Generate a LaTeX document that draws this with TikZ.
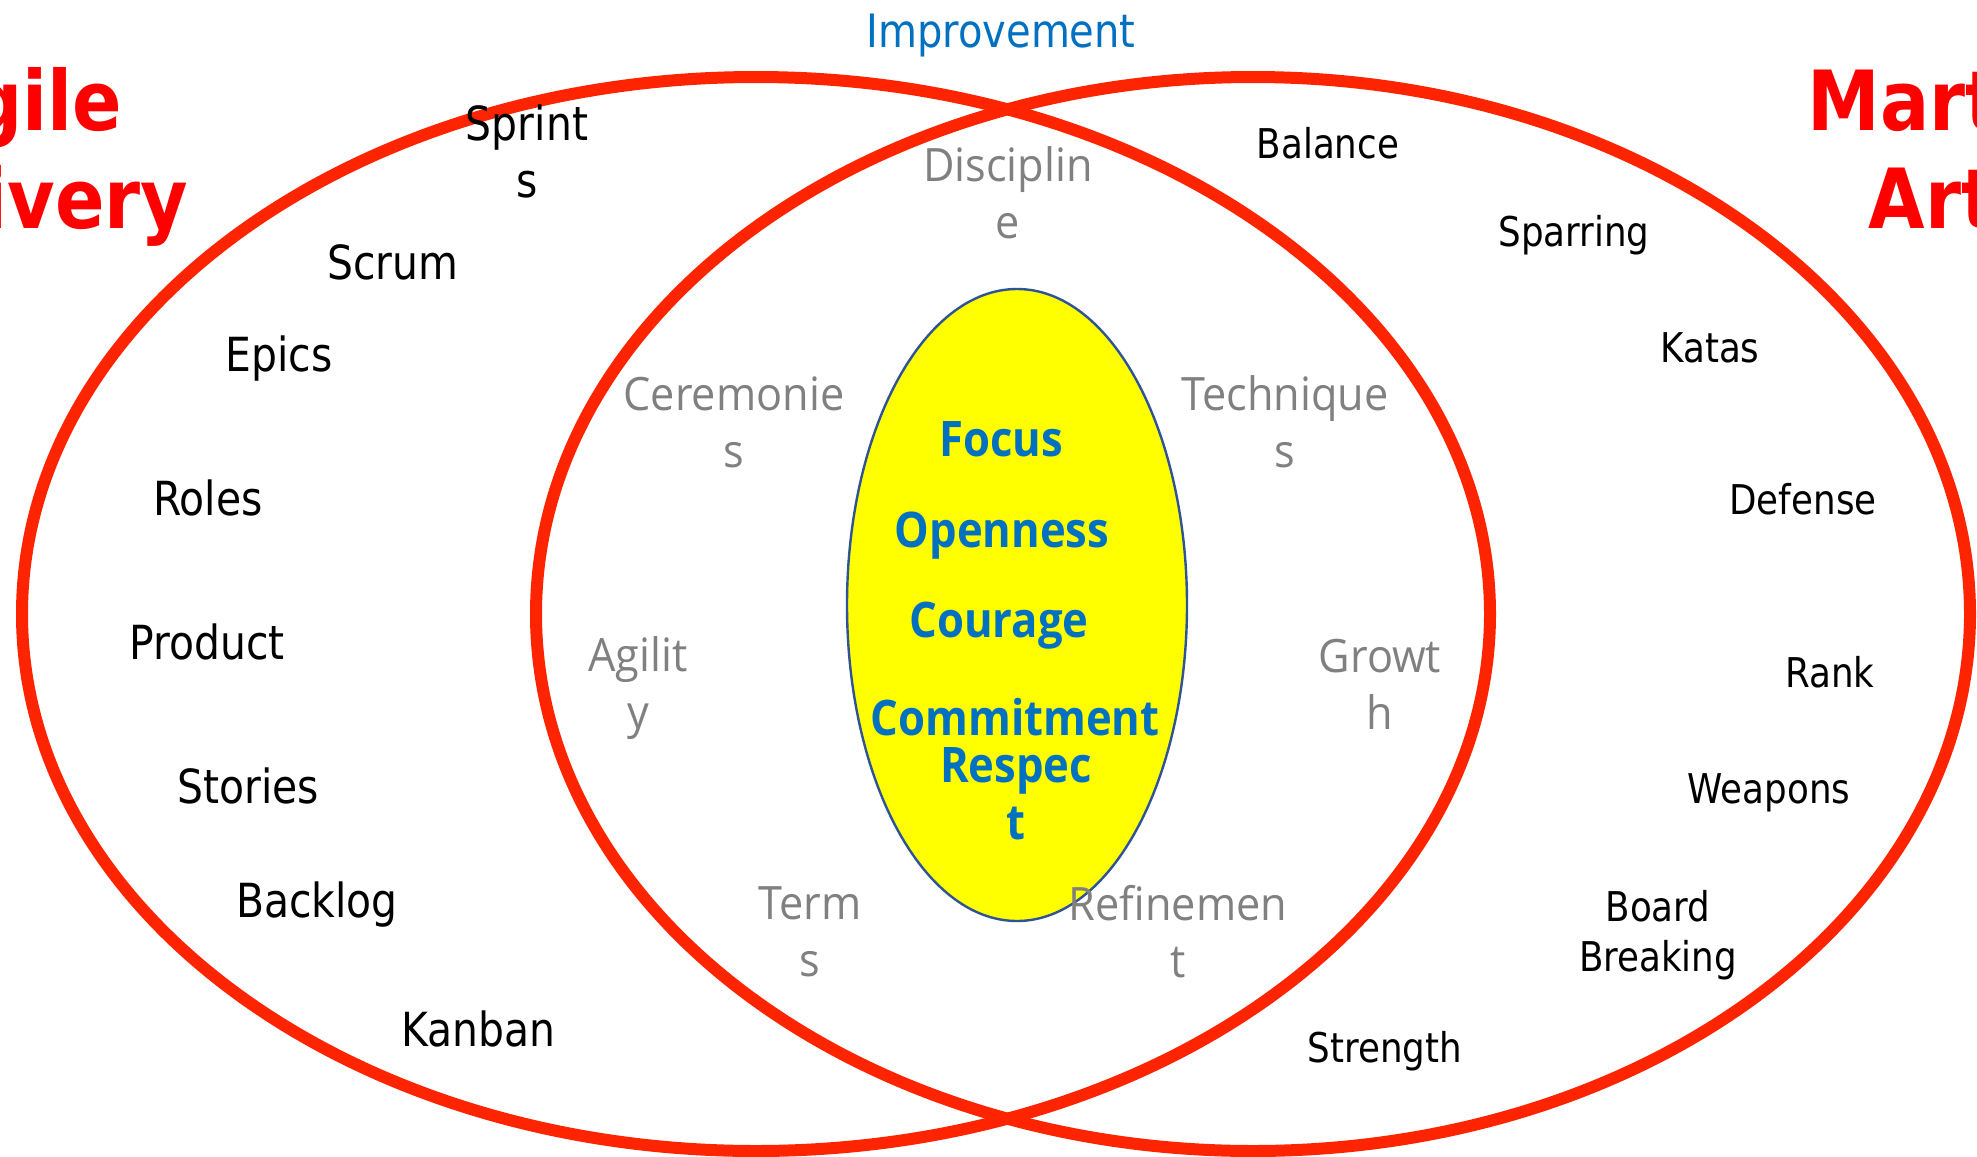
\documentclass[tikz,border=0pt]{standalone}
\usepackage{fontspec}
\setmainfont{DejaVu Sans}
\newfontfamily\tahomafont{DejaVu Sans}[FakeStretch=0.87]
\newfontfamily\segoefont{Open Sans}[FakeStretch=0.94]
\newfontfamily\segoeboldfont{Open Sans}[FakeStretch=0.89]
\newfontfamily\titlefont{DejaVu Sans}[FakeStretch=0.88]
\usetikzlibrary{positioning}

\definecolor{ringred}{RGB}{255,36,0}
\definecolor{titlered}{RGB}{255,0,0}
\definecolor{valueblue}{RGB}{0,112,192}
\definecolor{sharedgray}{RGB}{128,128,128}
\definecolor{coreyellow}{RGB}{255,255,0}
\definecolor{coreedge}{RGB}{47,84,150}

\tikzset{
  ring/.style={draw=ringred, line width=6pt},
  agileword/.style={text=black, inner sep=0, align=center, font=\tahomafont\fontsize{23.5}{28.5}\selectfont},
  martialword/.style={text=black, inner sep=0, align=center, font=\tahomafont\fontsize{20.5}{25}\selectfont},
  sharedword/.style={text=sharedgray, inner sep=0, align=center, font=\segoefont\fontsize{23}{28.5}\selectfont},
  valueword/.style={text=valueblue, inner sep=0, align=center, font=\segoeboldfont\bfseries\fontsize{24.5}{28.5}\selectfont},
  bigtitle/.style={text=titlered, inner sep=0, align=center, anchor=north, font=\titlefont\bfseries\fontsize{41.5}{49}\selectfont}
}

\begin{document}
\begin{tikzpicture}[x=0.5pt,y=-0.5pt]
\useasboundingbox (0,0) rectangle (1977,1157);
\fill[white] (0,0) rectangle (1977,1157);

\draw[ring] (756,614) ellipse (734 and 537);
\draw[ring] (1253,614) ellipse (717 and 537);
\draw[fill=coreyellow, draw=coreedge, line width=1.2pt] (1017,605) ellipse (170 and 316);

\node[bigtitle] (agile) at (18,67) {Agile\\Delivery};
\node[bigtitle] (martial) at (1954,67) {Martial\\Arts};
\node[text=valueblue, inner sep=0, font=\tahomafont\fontsize{23}{28}\selectfont] (improvement) at (1001,36) {Improvement};

\node[agileword] (sprints) at (527,151) {Sprint\\s};
\node[agileword] (scrum) at (393,262) {Scrum};
\node[agileword] (epics) at (279,359) {Epics};
\node[agileword] (roles) at (208,498) {Roles};
\node[agileword] (product) at (207,642) {Product};
\node[agileword] (stories) at (248,786) {Stories};
\node[agileword] (backlog) at (317,905) {Backlog};
\node[agileword] (kanban) at (478,1029) {Kanban};

\node[martialword] (balance) at (1328,143) {Balance};
\node[martialword] (sparring) at (1574,235) {Sparring};
\node[martialword] (katas) at (1710,348) {Katas};
\node[martialword] (defense) at (1803,499) {Defense};
\node[martialword] (rank) at (1830,672) {Rank};
\node[martialword] (weapons) at (1769,793) {Weapons};
\node[martialword] (board) at (1658,935) {Board\\Breaking};
\node[martialword] (strength) at (1385,1051) {Strength};

\node[sharedword] (discipline) at (1008,193) {Disciplin\\e};
\node[sharedword] (ceremonies) at (734,422) {Ceremonie\\s};
\node[sharedword] (techniques) at (1285,422) {Technique\\s};
\node[sharedword] (agility) at (638,688) {Agilit\\y};
\node[sharedword] (growth) at (1380,684) {Growt\\h};
\node[sharedword] (terms) at (810,932) {Term\\s};
\node[sharedword] (refinement) at (1178,932) {Refinemen\\t};

\node[valueword] (focus) at (1001,439) {Focus};
\node[valueword] (openness) at (1002,536) {Openness};
\node[valueword] (courage) at (999,626) {Courage};
\node[valueword] (commitment) at (1015,717) {Commitment};
\node[valueword] (respect) at (1016,794) {Respec\\t};
\end{tikzpicture}
\end{document}
